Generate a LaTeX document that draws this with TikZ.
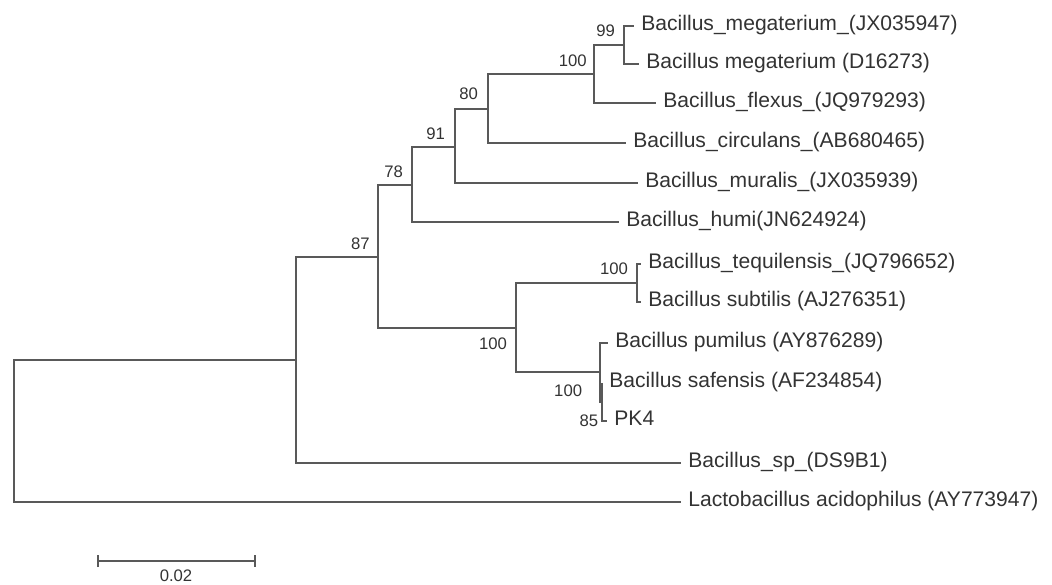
\documentclass[tikz,border=0pt]{standalone}
\usepackage{fontspec}
\setmainfont{Liberation Sans}
\usetikzlibrary{arrows.meta,positioning}
\tikzset{%
  branch/.style={draw=black!65, line width=1.2pt},
  taxon/.style={anchor=west, inner xsep=4pt, inner ysep=0pt, text=black!80,
    font=\fontsize{12}{14}\selectfont, text height=0.72em, text depth=0.22em},
  boot/.style={inner sep=0pt, text=black!80, font=\fontsize{9.5}{11}\selectfont}
}

\begin{document}
\begin{tikzpicture}[x=0.02cm, y=-0.02cm]
  \useasboundingbox (0,0) rectangle (1052,585);

  % inner nodes of the tree
  \coordinate (root) at (14,431);
  \coordinate (n0) at (296,360);
  \coordinate (n87) at (378,257);
  \coordinate (n78) at (412,185);
  \coordinate (n91) at (455,147);
  \coordinate (n80) at (488,109);
  \coordinate (n100a) at (594,74);
  \coordinate (n99) at (624,45);
  \coordinate (n100c) at (516,328);
  \coordinate (n100b) at (637,283);
  \coordinate (nA) at (600,372);
  \coordinate (nB) at (602,402);

  % taxa
  \node[taxon] (t1) at (634,26) {Bacillus\_megaterium\_(JX035947)};
  \node[taxon] (t2) at (639,64) {Bacillus megaterium (D16273)};
  \node[taxon] (t3) at (656,103) {Bacillus\_flexus\_(JQ979293)};
  \node[taxon] (t4) at (626,143) {Bacillus\_circulans\_(AB680465)};
  \node[taxon] (t5) at (638,183) {Bacillus\_muralis\_(JX035939)};
  \node[taxon] (t6) at (619,222) {Bacillus\_humi(JN624924)};
  \node[taxon] (t7) at (641,264) {Bacillus\_tequilensis\_(JQ796652)};
  \node[taxon] (t8) at (641,302) {Bacillus subtilis (AJ276351)};
  \node[taxon] (t9) at (608,343) {Bacillus pumilus (AY876289)};
  \node[taxon] (t10) at (602,383) {Bacillus safensis (AF234854)};
  \node[taxon] (t11) at (607,421) {PK4};
  \node[taxon] (t12) at (681,463) {Bacillus\_sp\_(DS9B1)};
  \node[taxon] (t13) at (681,502) {Lactobacillus acidophilus (AY773947)};

  \foreach \p/\c in {root/n0, root/t13, n0/n87, n0/t12, n87/n78, n87/n100c,
      n78/n91, n78/t6, n91/n80, n91/t5, n80/n100a, n80/t4, n100a/n99, n100a/t3,
      n99/t1, n99/t2, n100c/n100b, n100c/nA, n100b/t7, n100b/t8,
      nA/t9, nA/nB, nB/t10, nB/t11}
    \draw[branch] (\p) |- (\c);

  % bootstrap values
  \node[boot, above left=4.5pt and 5pt of n99] (b99) {99};
  \node[boot, above left=4pt and 4pt of n100a] (b100a) {100};
  \node[boot, above left=5pt and 5.5pt of n80] (b80) {80};
  \node[boot, above left=4pt and 5.5pt of n91] (b91) {91};
  \node[boot, above left=4pt and 5pt of n78] (b78) {78};
  \node[boot, above left=4pt and 4.5pt of n87] (b87) {87};
  \node[boot, above left=4.5pt and 5pt of n100b] (b100b) {100};
  \node[boot, below left=5.5pt and 5pt of n100c] (b100c) {100};
  \node[boot, below left=7pt and 10pt of nA] (b100d) {100};
  \node[boot, below left=7pt and 2pt of nB] (b85) {85};

  % scale bar
  \coordinate (s1) at (97,561);
  \coordinate (s2) at (256,561);
  \coordinate (smid) at (176,561);
  \draw[branch, {Bar[width=0.24cm]}-{Bar[width=0.24cm]}] (s1) -- (s2);
  \node[boot, below=5pt of smid] (slabel) {0.02};
\end{tikzpicture}
\end{document}
